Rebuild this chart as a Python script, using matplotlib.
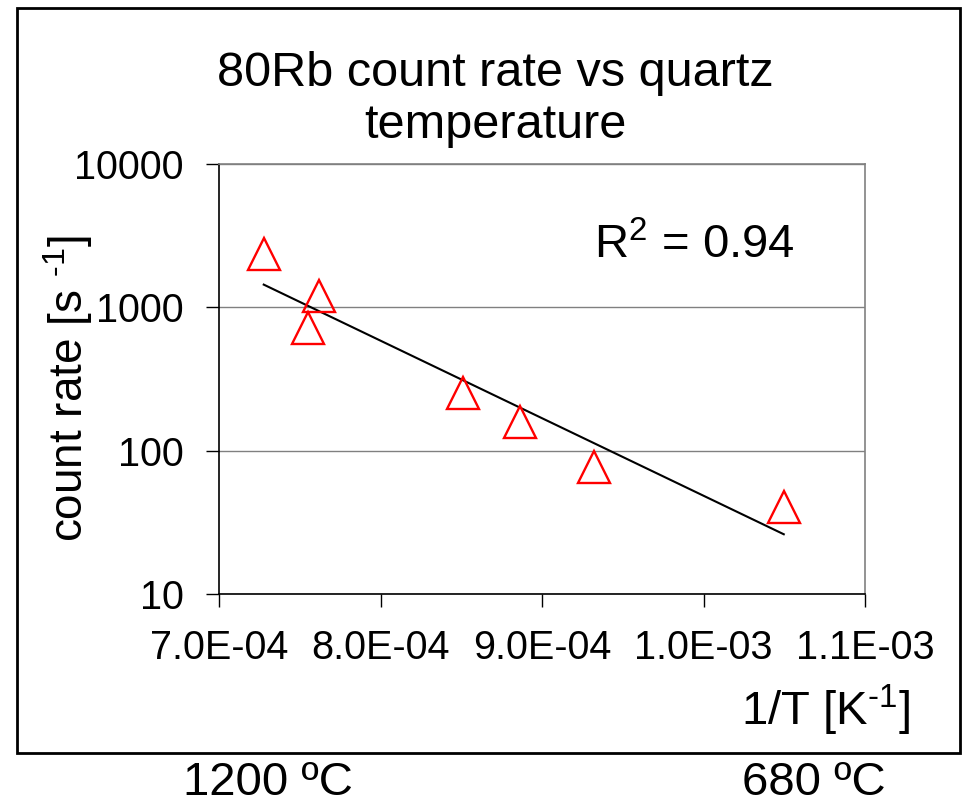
import numpy as np
import matplotlib
matplotlib.use("Agg")
import matplotlib.pyplot as plt
from matplotlib.patches import Rectangle

plt.rcParams['font.family'] = ['Liberation Sans', 'DejaVu Sans']
plt.rcParams['mathtext.fontset'] = 'custom'
plt.rcParams['mathtext.rm'] = 'Liberation Sans'
plt.rcParams['mathtext.default'] = 'regular'

# data
inv_T = [7.277e-4, 7.620e-4, 7.554e-4, 8.511e-4, 8.864e-4, 9.323e-4, 1.0497e-3]
count_rate = [2366, 1195, 713, 252, 158, 77.3, 40.5]
x_ticks = [7.0e-4, 8.0e-4, 9.0e-4, 1.0e-3, 1.1e-3]
x_labels = ['7.0E-04', '8.0E-04', '9.0E-04', '1.0E-03', '1.1E-03']
y_ticks = [10, 100, 1000, 10000]
y_labels = ['10', '100', '1000', '10000']
r2_text = 'R$^{2}$ = 0.94'
temp_labels = ['1200 ºC', '680 ºC']

W, H = 965, 807
fig = plt.figure(figsize=(W / 100, H / 100), dpi=100)

def px(x, y):
    return x / W, 1 - y / H

ax = fig.add_axes([219 / W, 1 - 594 / H, 646 / W, 430 / H])
ax.set_yscale('log')
ax.set_xlim(7.0e-4, 1.1e-3)
ax.set_ylim(10, 10000)

ax.yaxis.grid(True, color='#808080', lw=1)
ax.set_axisbelow(True)

# exponential trend line (fit on log10)
k, b = np.polyfit(np.array(inv_T), np.log10(count_rate), 1)
xs = np.linspace(min(inv_T), max(inv_T), 100)
ax.plot(xs, 10 ** (k * xs + b), color='black', lw=1.5, zorder=3)

ax.plot(inv_T, count_rate, linestyle='none', marker='^', markersize=23,
        markerfacecolor='none', markeredgecolor='red', markeredgewidth=1.7, zorder=4)

ax.set_xticks(x_ticks)
ax.set_xticklabels(x_labels)
ax.set_yticks(y_ticks)
ax.set_yticklabels(y_labels)
ax.yaxis.set_minor_locator(matplotlib.ticker.NullLocator())
ax.tick_params(axis='both', direction='out', length=9.5, width=1, pad=16,
               labelsize=28.5, color='black')

for s in ['top', 'right']:
    ax.spines[s].set_color('#808080')
    ax.spines[s].set_linewidth(1.2)
for s in ['left', 'bottom']:
    ax.spines[s].set_color('black')
    ax.spines[s].set_linewidth(1.2)

ax.text(0.58, 0.81, r2_text, transform=ax.transAxes, fontsize=34,
        ha='left', va='center')

# title
fig.text(*px(495, 100), '80Rb count rate vs quartz\ntemperature', fontsize=35,
         ha='center', va='center', linespacing=1.2)

# axis labels
fig.text(*px(68, 389), r'count rate [s $^{\text{-1}}$]', fontsize=33, rotation=90,
         ha='center', va='center')
fig.text(*px(910, 710), r'1/T [K$^{\text{-1}}$]', fontsize=34, ha='right', va='center')

# outer frame
x0, y0 = px(17, 753)
fig.patches.append(Rectangle((x0, y0), 943 / W, 745 / H, transform=fig.transFigure,
                             fill=False, edgecolor='black', lw=2))

fig.text(*px(268, 783), temp_labels[0], fontsize=34, ha='center', va='center')
fig.text(*px(814, 783), temp_labels[1], fontsize=34, ha='center', va='center')

fig.savefig('out.png', dpi=100)
